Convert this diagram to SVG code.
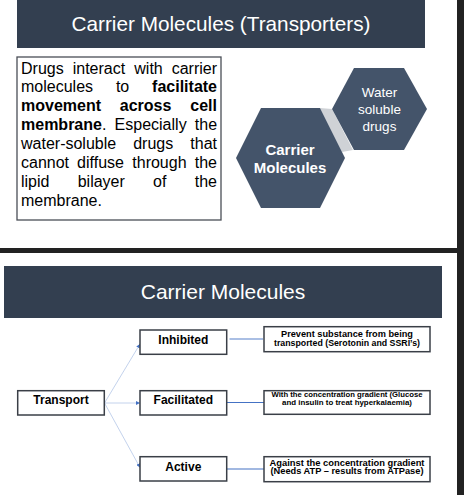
<svg xmlns="http://www.w3.org/2000/svg" width="464" height="495" viewBox="0 0 464 495">
<style>
.band{fill:#333f50}
.ttl{font-family:"Liberation Sans",Arial,sans-serif;font-size:21px;fill:#ffffff;text-anchor:middle}
.body{font-family:"Liberation Sans",Arial,sans-serif;font-size:16px;fill:#000000}
.b{font-weight:bold}
.hex{fill:#44546a}
.hext{font-family:"Liberation Sans",Arial,sans-serif;fill:#ffffff;text-anchor:middle}
.box{fill:#ffffff;stroke:#3a3f47;stroke-width:1.5}
.lbl{font-family:"Liberation Sans",Arial,sans-serif;font-weight:bold;font-size:12px;fill:#000000;text-anchor:middle}
.sm{font-family:"Liberation Sans",Arial,sans-serif;font-weight:bold;fill:#000000;text-anchor:middle}
.fan{stroke:#b4c7e7;stroke-width:0.8;fill:none}
.lnk{stroke:#4472c4;stroke-width:1.2;fill:none}
</style>
<defs>
<marker id="ah" viewBox="0 0 6 6" refX="6" refY="3" markerWidth="4" markerHeight="4" markerUnits="userSpaceOnUse" orient="auto">
<path d="M0,0 L6,3 L0,6 z" fill="#4472c4"/>
</marker>
</defs>
<rect x="0" y="0" width="464" height="495" fill="#ffffff"/>
<rect x="457" y="0" width="7" height="495" fill="#222222"/>
<rect x="0" y="248" width="464" height="5" fill="#222222"/>

<g id="title1">
<rect class="band" x="17" y="0" width="408" height="48"/>
<text class="ttl" x="221" y="31" textLength="299" lengthAdjust="spacingAndGlyphs">Carrier Molecules (Transporters)</text>
</g>

<g id="textbox">
<rect x="17" y="57" width="204" height="163" fill="#ffffff" stroke="#4a4f57" stroke-width="1.3"/>
<text class="body" y="73.5"><tspan x="21">Drugs</tspan><tspan x="72.7">interact</tspan><tspan x="134.3">with</tspan><tspan x="171.7">carrier</tspan></text>
<text class="body" y="92.4"><tspan x="21">molecules</tspan><tspan x="115.9">to</tspan><tspan x="152.1" class="b">facilitate</tspan></text>
<text class="body b" y="111.3"><tspan x="21">movement</tspan><tspan x="119.8">across</tspan><tspan x="190.3">cell</tspan></text>
<text class="body" y="130.2"><tspan x="21" class="b">membrane</tspan><tspan>.</tspan><tspan x="114.6">Especially</tspan><tspan x="194.8">the</tspan></text>
<text class="body" y="149.1"><tspan x="21">water-soluble</tspan><tspan x="133.2">drugs</tspan><tspan x="190.3">that</tspan></text>
<text class="body" y="168"><tspan x="21">cannot</tspan><tspan x="77.1">diffuse</tspan><tspan x="132.3">through</tspan><tspan x="194.7">the</tspan></text>
<text class="body" y="186.9"><tspan x="21">lipid</tspan><tspan x="77.7">bilayer</tspan><tspan x="153.1">of</tspan><tspan x="194.7">the</tspan></text>
<text class="body" y="205.8"><tspan x="21">membrane.</tspan></text>
</g>

<g id="hexlink">
<polygon points="320,108 332,109 353,150 342,152" fill="#cfd2d6"/>
</g>
<g id="hex-water">
<polygon class="hex" points="332,109 354,68 404,68 427,109 404,150 354,150"/>
<text class="hext" x="379.5" y="97" font-size="13.5">Water</text>
<text class="hext" x="379.5" y="114" font-size="13.5">soluble</text>
<text class="hext" x="379.5" y="131" font-size="13.5">drugs</text>
</g>
<g id="hex-carrier">
<polygon class="hex" points="236,158 261,108 320,108 345,158 320,208 261,208"/>
<text class="hext" x="290" y="154.5" font-size="15" font-weight="bold">Carrier</text>
<text class="hext" x="290" y="173" font-size="15" font-weight="bold">Molecules</text>
</g>

<g id="title2">
<rect class="band" x="4" y="266" width="438" height="52"/>
<text class="ttl" x="223" y="299">Carrier Molecules</text>
</g>

<g id="connectors">
<line class="fan" x1="104.5" y1="403" x2="140" y2="344" marker-end="url(#ah)"/>
<line class="fan" x1="104.5" y1="403" x2="140" y2="403" marker-end="url(#ah)"/>
<line class="fan" x1="104.5" y1="403" x2="140" y2="467.5" marker-end="url(#ah)"/>
<line x1="229.5" y1="339" x2="263" y2="339" stroke="#8eaadb" stroke-width="1.4"/>
<line class="lnk" x1="227" y1="402.5" x2="264" y2="402.5"/>
<line class="lnk" x1="227" y1="469" x2="264" y2="469"/>
</g>

<g id="transport">
<rect class="box" x="17.7" y="390.7" width="86.6" height="24.3"/>
<text class="lbl" x="61" y="403.8">Transport</text>
</g>
<g id="inhibited">
<rect class="box" x="140" y="330" width="86.7" height="24.3"/>
<text class="lbl" x="183.3" y="343.5">Inhibited</text>
</g>
<g id="facilitated">
<rect class="box" x="140" y="390.7" width="86.7" height="24.3"/>
<text class="lbl" x="183.3" y="403.5">Facilitated</text>
</g>
<g id="active">
<rect class="box" x="140" y="456.7" width="86.7" height="24.3"/>
<text class="lbl" x="183.3" y="471">Active</text>
</g>

<g id="prevent">
<rect class="box" x="264" y="326.7" width="166" height="25"/>
<text class="sm" x="347" y="336.7" font-size="9.3" textLength="132" lengthAdjust="spacingAndGlyphs">Prevent substance from being</text>
<text class="sm" x="347" y="346" font-size="9.3" textLength="146" lengthAdjust="spacingAndGlyphs">transported (Serotonin and SSRI’s)</text>
</g>
<g id="with">
<rect class="box" x="264" y="390.7" width="166" height="23.6"/>
<text class="sm" x="347" y="397.3" font-size="8" textLength="151" lengthAdjust="spacingAndGlyphs">With the concentration gradient (Glucose</text>
<text class="sm" x="347" y="405" font-size="8" textLength="130" lengthAdjust="spacingAndGlyphs">and insulin to treat hyperkalaemia)</text>
</g>
<g id="against">
<rect class="box" x="264" y="456.7" width="166" height="25"/>
<text class="sm" x="347" y="465.7" font-size="9.3" textLength="155" lengthAdjust="spacingAndGlyphs">Against the concentration gradient</text>
<text class="sm" x="347" y="474.3" font-size="9.3" textLength="153" lengthAdjust="spacingAndGlyphs">(Needs ATP – results from ATPase)</text>
</g>
</svg>
